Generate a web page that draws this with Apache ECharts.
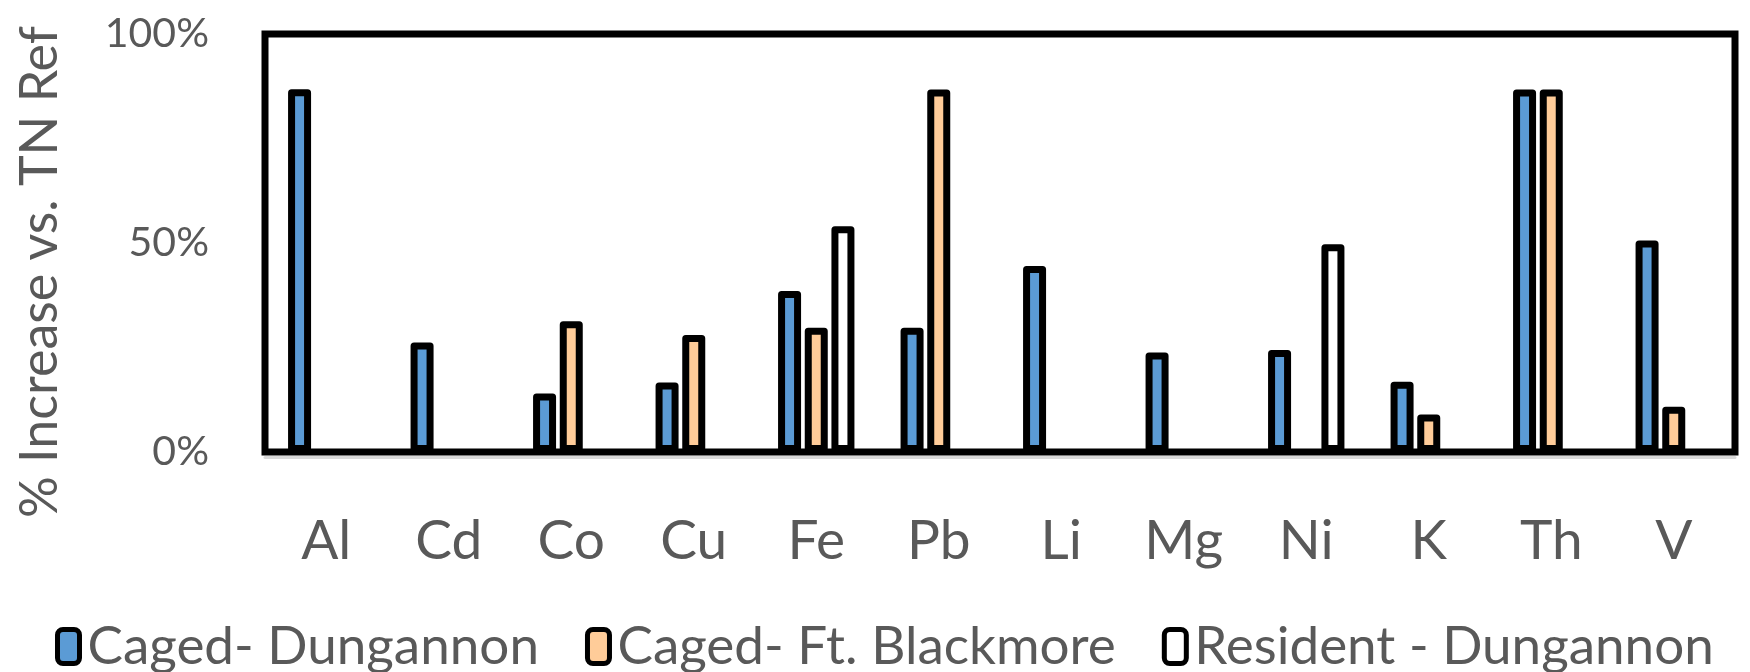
<!DOCTYPE html>
<html>
<head>
<meta charset="utf-8">
<script src="https://cdn.jsdelivr.net/npm/echarts@6/dist/echarts.min.js"></script>
<style>html,body{margin:0;padding:0;background:#fff}#c{width:1750px;height:672px}</style>
</head>
<body>
<div id="c"></div>
<script>
const categories = ['Al','Cd','Co','Cu','Fe','Pb','Li','Mg','Ni','K','Th','V'];
const seriesNames = ['Caged- Dungannon', 'Caged- Ft. Blackmore', 'Resident - Dungannon'];
const cagedDungannon = [86.8, 26.2, 14.0, 16.6, 38.5, 29.7, 44.5, 23.8, 24.4, 16.8, 86.7, 50.6];
const cagedBlackmore = [null, null, 31.3, 28.0, 29.7, 86.7, null, null, null, 9.0, 86.7, 10.8];
const residentDungannon = [null, null, null, null, 54.0, null, null, null, 49.7, null, null, null];
const yTicks = [0, 50, 100];
const yTitle = '% Increase vs. TN Ref';

const cv = document.createElement('canvas').getContext('2d');
function mw(font, t){ cv.font = font; return cv.measureText(t).width; }
function avail(f){ const s='abcdefghijklmWQ0%'; return mw("100px '"+f+"', monospace", s) !== mw('100px monospace', s); }
const FAMILY = ['Lato','Liberation Sans','Noto Sans','DejaVu Sans'].find(avail) || 'sans-serif';
function fit(t, target){ return Math.round(target * 100 / mw("100px '"+FAMILY+"'", t)); }
const legendSize = fit(seriesNames[0], 450);
const xSize = fit('Cd', 67);
const ySize = fit('100%', 104);
const titleSize = fit(yTitle, 494);

const TXT = '#595959';
const chart = echarts.init(document.getElementById('c'), null, {renderer:'canvas'});
function bar(name, data, color){
  return {
    name, type:'bar', data, xAxisIndex:0,
    barWidth:23, barGap:'16%',
    itemStyle:{color, borderColor:'#000', borderWidth:7, borderJoin:'round'}
  };
}
chart.setOption({
  animation:false,
  textStyle:{fontFamily:FAMILY},
  grid:{left:265, right:15, top:34, bottom:220, show:true, borderColor:'#000', borderWidth:7, backgroundColor:'transparent'},
  legend:{
    left:55, top:620, padding:0, itemWidth:22, itemHeight:34, itemGap:46,
    data: seriesNames,
    textStyle:{color:TXT, fontSize:legendSize, lineHeight:40, fontFamily:FAMILY, padding:[0,0,0,3]},
    itemStyle:{borderColor:'#000', borderWidth:5}
  },
  graphic:[{
    type:'text', x:40, y:272, rotation:Math.PI/2,
    style:{text:yTitle, fill:TXT, font: titleSize+"px '"+FAMILY+"'", align:'center', verticalAlign:'middle'}
  }],
  xAxis:[{
    type:'category', data:categories, position:'bottom',
    axisLine:{show:false}, axisTick:{show:false},
    axisLabel:{color:TXT, fontSize:xSize, margin:62, fontFamily:FAMILY}
  },{
    type:'category', data:categories, position:'bottom', offset:5,
    axisLine:{show:true, lineStyle:{color:'#D9D9D9', width:3}}, axisTick:{show:false}, axisLabel:{show:false}
  }],
  yAxis:{
    type:'value', min:0, max:100, interval:50,
    axisLine:{show:false}, axisTick:{show:false}, splitLine:{show:false},
    axisLabel:{color:TXT, fontSize:ySize, margin:56, fontFamily:FAMILY, formatter:v => yTicks.includes(v) ? v+'%' : ''}
  },
  series:[
    bar(seriesNames[0], cagedDungannon, '#5B9BD5'),
    bar(seriesNames[1], cagedBlackmore, '#FFCC99'),
    bar(seriesNames[2], residentDungannon, '#FFFFFF')
  ]
});
</script>
</body>
</html>
